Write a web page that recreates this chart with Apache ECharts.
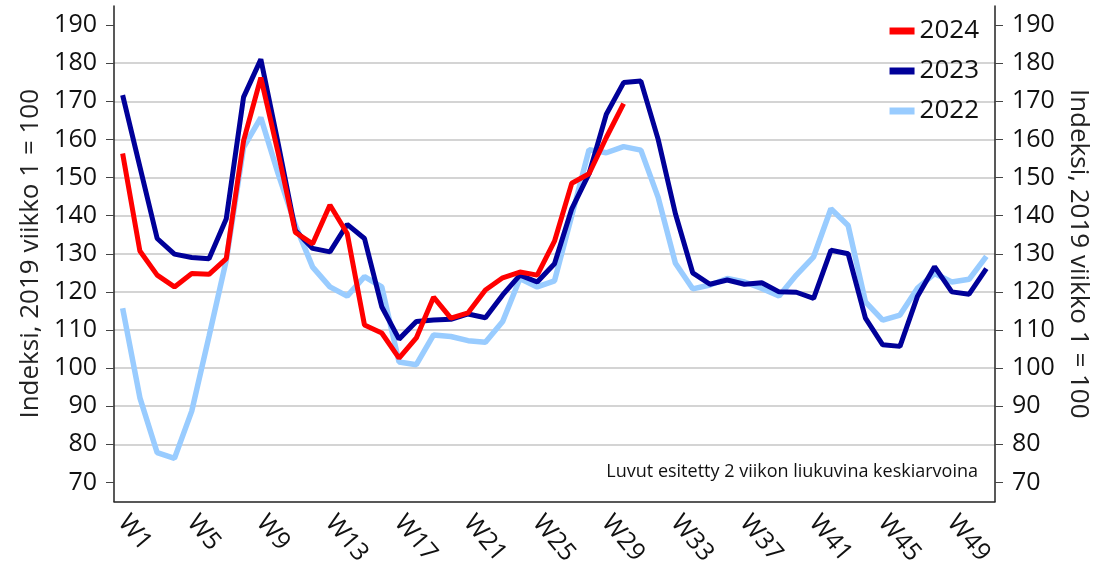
<!DOCTYPE html>
<html>
<head>
<meta charset="utf-8">
<script src="https://cdn.jsdelivr.net/npm/echarts@6/dist/echarts.min.js"></script>
<style>
  html, body { margin: 0; padding: 0; background: #fff; }
  #chart { width: 1113px; height: 575px; }
</style>
</head>
<body>
<div id="chart"></div>
<script>
// viikot W1..W51 (2 viikon liukuva keskiarvo)
const weeks = []
for (let i = 1; i <= 51; i++) weeks.push('W' + i)

const values2024 = [
  156.3, 130.7, 124.4, 121.3, 124.8, 124.6, 128.7, 159.6, 176.2, 156.5,
  135.6, 132.6, 142.8, 135.3, 111.3, 109.2, 102.6, 107.9, 118.6, 113.1,
  114.5, 120.5, 123.7, 125.2, 124.4, 133.3, 148.5, 151.0, 160.5, 169.4
]

const values2023 = [
  171.6, 152.8, 134.0, 129.9, 129.0, 128.7, 139.2, 171.1, 181.0, 159.0,
  136.1, 131.4, 130.5, 137.7, 134.0, 116.1, 107.6, 112.2, 112.6, 112.8,
  114.2, 113.2, 119.2, 124.4, 122.6, 127.4, 141.8, 151.0, 166.6, 174.9,
  175.3, 160.0, 140.5, 125.0, 122.0, 123.1, 122.0, 122.4, 120.0, 119.9,
  118.3, 130.9, 130.0, 113.1, 106.1, 105.7, 118.7, 126.6, 120.0, 119.4,
  126.1
]

const values2022 = [
  115.7, 92.2, 77.8, 76.3, 88.7, 108.3, 128.3, 157.9, 165.7, 151.0,
  137.5, 126.5, 121.3, 118.9, 124.0, 121.3, 101.6, 100.9, 108.7, 108.3,
  107.2, 106.8, 112.2, 123.5, 121.3, 122.9, 140.0, 157.3, 156.5, 158.1,
  157.2, 144.8, 127.5, 120.8, 121.8, 123.5, 122.6, 120.9, 118.9, 124.4,
  129.2, 141.8, 137.4, 117.4, 112.6, 113.9, 120.9, 124.8, 122.6, 123.3,
  129.3
]

const yTicks = [70, 80, 90, 100, 110, 120, 130, 140, 150, 160, 170, 180, 190]

const FONT = 'Open Sans'
const axisName = 'Indeksi, 2019 viikko 1 = 100'

const makeYAxis = (pos) => ({
  type: 'value',
  position: pos,
  min: 65,
  max: 195,
  splitNumber: 13,
  minInterval: 10,
  maxInterval: 10,
  name: axisName,
  nameLocation: 'middle',
  nameGap: pos === 'left' ? 56 : 63,
  nameRotate: pos === 'left' ? 90 : -90,
  nameTextStyle: { fontFamily: FONT, fontSize: 26, color: '#222' },
  axisLine: { show: true, lineStyle: { color: '#222', width: 1.5 } },
  axisTick: { show: true, length: 8, customValues: yTicks, lineStyle: { color: '#444', width: 1 } },
  axisLabel: {
    customValues: yTicks,
    margin: 17,
    fontFamily: FONT,
    fontSize: 25,
    color: '#111'
  },
  splitLine: {
    show: pos === 'left',
    showMinLine: false,
    showMaxLine: false,
    lineStyle: { color: '#d4d4d4', width: 2 }
  }
})

const chart = echarts.init(document.getElementById('chart'))

const option = {
  animation: false,
  backgroundColor: '#fff',
  grid: { left: 114, right: 118, top: 6, bottom: 73.5 },
  legend: {
    data: ['2024', '2023', '2022'],
    orient: 'vertical',
    right: 134,
    top: 18,
    padding: 0,
    itemGap: 14,
    itemWidth: 25,
    itemHeight: 7,
    icon: 'rect',
    textStyle: { fontFamily: FONT, fontSize: 26, color: '#111' }
  },
  xAxis: {
    type: 'category',
    data: weeks,
    boundaryGap: true,
    axisLine: { lineStyle: { color: '#222', width: 1.5 } },
    axisTick: { interval: 3, length: 8, lineStyle: { color: '#222' } },
    axisLabel: {
      interval: 3,
      rotate: -50,
      margin: 17,
      fontFamily: FONT,
      fontSize: 25,
      color: '#111'
    },
    splitLine: { show: false }
  },
  yAxis: [makeYAxis('left'), makeYAxis('right')],
  graphic: [
    {
      type: 'text',
      right: 135,
      top: 463,
      style: {
        text: 'Luvut esitetty 2 viikon liukuvina keskiarvoina',
        font: '18px "Open Sans"',
        fill: '#111'
      }
    }
  ],
  series: [
    {
      name: '2022',
      type: 'line',
      data: values2022,
      showSymbol: false,
      symbol: 'none',
      lineStyle: { color: '#99ccff', width: 5.5 },
      itemStyle: { color: '#99ccff' }
    },
    {
      name: '2023',
      type: 'line',
      data: values2023,
      showSymbol: false,
      symbol: 'none',
      lineStyle: { color: '#000099', width: 5 },
      itemStyle: { color: '#000099' }
    },
    {
      name: '2024',
      type: 'line',
      data: values2024,
      showSymbol: false,
      symbol: 'none',
      lineStyle: { color: '#ff0000', width: 5 },
      itemStyle: { color: '#ff0000' }
    }
  ]
}

chart.setOption(option)
</script>
</body>
</html>
